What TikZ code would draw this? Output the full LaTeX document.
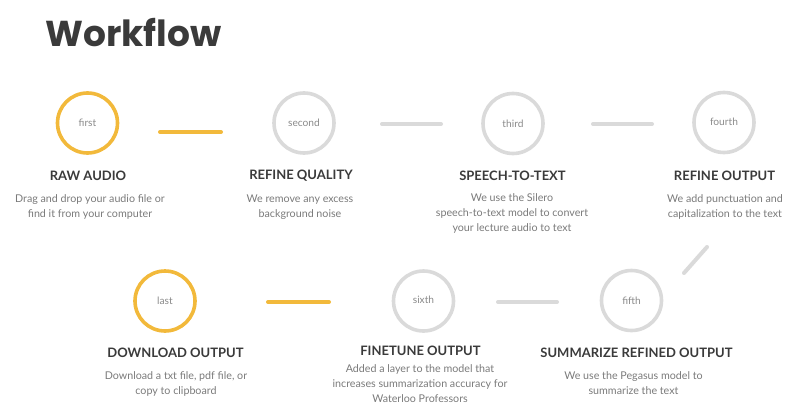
\documentclass[tikz,border=0pt]{standalone}
\usepackage{fontspec}
\setmainfont{Lato}
\newfontfamily\titlefont{Poppins}
\definecolor{ylw}{HTML}{F2B93B}
\definecolor{lgray}{HTML}{DADADA}
\definecolor{dark}{HTML}{3A3A3A}
\definecolor{body}{HTML}{7A7A7A}
\definecolor{lbl}{HTML}{8A8A8A}
\begin{document}
\begin{tikzpicture}[x=1pt,y=-1pt,
  circy/.style={circle,draw=ylw,line width=3.6pt,minimum size=60pt,inner sep=0pt,text=lbl,font=\fontsize{10.2}{11}\selectfont},
  circg/.style={circle,draw=lgray,line width=3.6pt,minimum size=60pt,inner sep=0pt,text=lbl,font=\fontsize{10.2}{11}\selectfont},
  ylink/.style={draw=ylw,line width=4pt,line cap=round},
  glink/.style={draw=lgray,line width=4pt,line cap=round},
  head/.style={text=dark,font=\fontsize{13}{15}\selectfont\bfseries,inner sep=0pt},
  desc/.style={text=body,align=center,font=\fontsize{10.7}{15}\selectfont,inner sep=0pt,anchor=north}]
\useasboundingbox (0,0) rectangle (806,415);
\node[text=dark,font=\titlefont\fontsize{36}{40}\selectfont\bfseries,anchor=west,inner sep=0pt] (title) at (45,33) {Workflow};

% top row
\node[circy] (c1) at (87.5,123) {first};
\node[circg] (c2) at (304,123) {second};
\node[circg] (c3) at (513,123.5) {third};
\node[circg] (c4) at (724,122.5) {\raisebox{1.5pt}{fourth}};

\coordinate (a1) at (160,132); \coordinate (b1) at (221,132);
\coordinate (a2) at (382,124); \coordinate (b2) at (441,124);
\coordinate (a3) at (593,124); \coordinate (b3) at (652,124);
\draw[ylink] (a1) -- (b1);
\draw[glink] (a2) -- (b2);
\draw[glink] (a3) -- (b3);

\node[head] (h1) at (88,175.5) {RAW AUDIO};
\node[head] (h2) at (301,176) {REFINE QUALITY};
\node[head] (h3) at (512.5,176) {SPEECH-TO-TEXT};
\node[head] (h4) at (724.5,176) {REFINE OUTPUT};

\node[desc] (d1) at (90,194.5) {Drag and drop your audio file or\\find it from your computer};
\node[desc] (d2) at (300,194.5) {We remove any excess\\background noise};
\node[desc] (d3) at (512,193) {We use the Silero\\speech-to-text model to convert\\your lecture audio to text};
\node[desc] (d4) at (725,194.5) {We add punctuation and\\capitalization to the text};

% diagonal
\coordinate (a4) at (707,247); \coordinate (b4) at (684,273);
\draw[glink] (a4) -- (b4);

% bottom row
\node[circy] (c7) at (165,301) {last};
\node[circg] (c6) at (423.5,301) {\raisebox{2pt}{sixth}};
\node[circg] (c5) at (631.5,300.5) {fifth};

\coordinate (a5) at (557,302); \coordinate (b5) at (498,302);
\coordinate (a6) at (329,302); \coordinate (b6) at (268,302);
\draw[glink] (a5) -- (b5);
\draw[ylink] (a6) -- (b6);

\node[head] (h7) at (175.5,353) {DOWNLOAD OUTPUT};
\node[head] (h6) at (420.5,351) {FINETUNE OUTPUT};
\node[head] (h5) at (636.5,353) {SUMMARIZE REFINED OUTPUT};

\node[desc] (d7) at (176,371) {Download a txt file, pdf file, or\\copy to clipboard};
\node[desc] (d6) at (420,364) {Added a layer to the model that\\increases summarization accuracy for\\Waterloo Professors};
\node[desc] (d5) at (633.5,371) {We use the Pegasus model to\\summarize the text};
\end{tikzpicture}
\end{document}
